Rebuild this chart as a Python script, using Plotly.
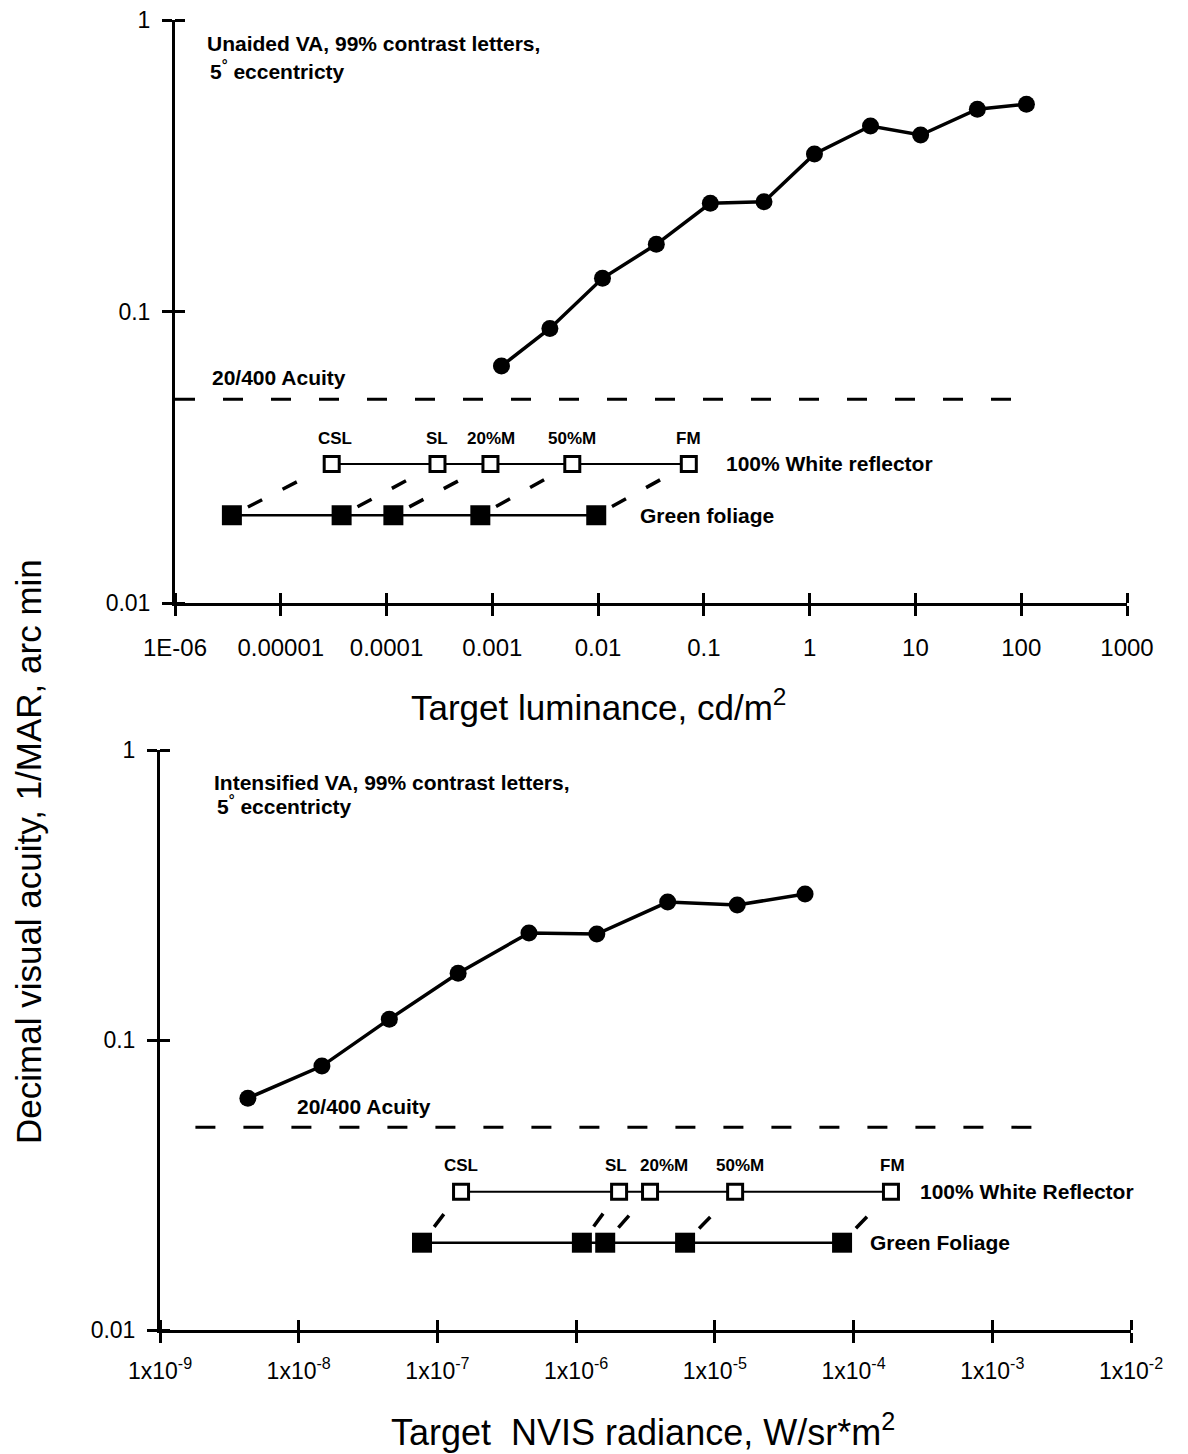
import numpy as np
import plotly.graph_objects as go

# ---------------- data ----------------
# Unaided visual acuity vs target luminance (cd/m^2)
lum = [0.00122, 0.0035, 0.011, 0.0355, 0.115, 0.37, 1.11, 3.76, 11.2, 38.5, 112]
va_unaided = [0.065, 0.0875, 0.130, 0.170, 0.235, 0.238, 0.347, 0.433, 0.403, 0.494, 0.514]

# Intensified visual acuity vs NVIS radiance (W/sr*m^2)
rad = [4.3e-9, 1.47e-8, 4.5e-8, 1.41e-7, 4.57e-7, 1.41e-6, 4.57e-6, 1.45e-5, 4.47e-5]
va_intens = [0.063, 0.0813, 0.118, 0.170, 0.234, 0.232, 0.299, 0.292, 0.319]

acuity_2040 = 0.05
acuity_top_x = [1e-6, 84]
acuity_bot_x = [1.8e-9, 2.3e-3]

cond_labels = ["CSL", "SL", "20%M", "50%M", "FM"]
white_lum = [3.03e-5, 3.03e-4, 9.6e-4, 5.7e-3, 0.072]
green_lum = [3.45e-6, 3.76e-5, 1.16e-4, 7.7e-4, 0.0096]
white_rad = [1.48e-7, 2.04e-6, 3.41e-6, 1.4e-5, 1.86e-4]
green_rad = [7.74e-8, 1.1e-6, 1.62e-6, 6.1e-6, 8.26e-5]
white_level = 0.03
green_level = 0.02

top_ticks = [1e-6, 1e-5, 1e-4, 1e-3, 1e-2, 0.1, 1, 10, 100, 1000]
top_ticktext = ["1E-06", "0.00001", "0.0001", "0.001", "0.01", "0.1", "1", "10", "100", "1000"]
bot_ticks = [1e-9, 1e-8, 1e-7, 1e-6, 1e-5, 1e-4, 1e-3, 1e-2]
bot_ticktext = ["1x10<sup>-%d</sup>" % k for k in range(9, 1, -1)]
y_ticks = [0.01, 0.1, 1]
y_ticktext = ["0.01", "0.1", "1"]

# ---------------- styling ----------------
SANS = "Liberation Sans, Arial, Helvetica, sans-serif"
BLACK = "black"

fig = go.Figure()


def add_panel(xa, ya, xs, ys, acu_x, white_x, green_x, conn_dash):
    # dashed connectors between matching foliage / reflector points
    for gx, wx in zip(green_x, white_x):
        fig.add_trace(go.Scatter(
            x=[gx, wx], y=[green_level, white_level], mode="lines",
            line=dict(color=BLACK, width=3.5, dash=conn_dash),
            xaxis=xa, yaxis=ya, showlegend=False, hoverinfo="skip"))
    # 20/400 acuity reference
    fig.add_trace(go.Scatter(
        x=acu_x, y=[acuity_2040, acuity_2040], mode="lines",
        line=dict(color=BLACK, width=3, dash="20px,28px"),
        xaxis=xa, yaxis=ya, showlegend=False))
    # 100% white reflector
    fig.add_trace(go.Scatter(
        x=white_x, y=[white_level] * len(white_x), mode="lines+markers",
        line=dict(color=BLACK, width=2),
        marker=dict(symbol="square", size=15, color="white",
                    line=dict(color=BLACK, width=3)),
        xaxis=xa, yaxis=ya, showlegend=False))
    # green foliage
    fig.add_trace(go.Scatter(
        x=green_x, y=[green_level] * len(green_x), mode="lines+markers",
        line=dict(color=BLACK, width=2.5),
        marker=dict(symbol="square", size=20, color=BLACK),
        xaxis=xa, yaxis=ya, showlegend=False))
    # acuity curve
    fig.add_trace(go.Scatter(
        x=xs, y=ys, mode="lines+markers",
        line=dict(color=BLACK, width=3.5),
        marker=dict(symbol="circle", size=17, color=BLACK),
        xaxis=xa, yaxis=ya, showlegend=False))


add_panel("x", "y", lum, va_unaided, acuity_top_x, white_lum, green_lum,
          "0px,18px,16px,23px,16px,400px")
add_panel("x2", "y2", rad, va_intens, acuity_bot_x, white_rad, green_rad,
          "0px,20px,16px,400px")


def axis_common(tickvals, ticktext, standoff, size):
    return dict(
        type="log", showgrid=False, zeroline=False,
        showline=True, linecolor=BLACK, linewidth=3,
        tickmode="array", tickvals=tickvals, ticktext=ticktext,
        ticks="outside", ticklen=10, tickwidth=2.5, tickcolor=BLACK,
        minor=dict(tickmode="array", tickvals=tickvals, ticks="inside",
                   ticklen=10, tickwidth=2.5, tickcolor=BLACK, showgrid=False),
        tickfont=dict(family=SANS, size=size, color=BLACK),
        ticklabelstandoff=standoff, automargin=False,
    )


W, H = 1188, 1454
top_px = dict(x0=175, x1=1127, y0=20, y1=603)
bot_px = dict(x0=160, x1=1131, y0=750, y1=1330)

fig.update_layout(
    width=W, height=H, margin=dict(l=0, r=0, t=0, b=0),
    paper_bgcolor="white", plot_bgcolor="white",
    xaxis=dict(axis_common(top_ticks, top_ticktext, 11, 24),
               domain=[top_px["x0"] / W, top_px["x1"] / W], range=[-6, 3], anchor="y"),
    yaxis=dict(axis_common(y_ticks, y_ticktext, 7, 23),
               domain=[1 - top_px["y1"] / H, 1 - top_px["y0"] / H], range=[-2, 0], anchor="x"),
    xaxis2=dict(axis_common(bot_ticks, bot_ticktext, 8, 23),
                domain=[bot_px["x0"] / W, bot_px["x1"] / W], range=[-9, -2], anchor="y2"),
    yaxis2=dict(axis_common(y_ticks, y_ticktext, 7, 23),
                domain=[1 - bot_px["y1"] / H, 1 - bot_px["y0"] / H], range=[-2, 0], anchor="x2"),
    showlegend=False,
)

ann = []


def label(x, y, text, xref, yref, size=21, bold=True, xanchor="center",
          yanchor="middle", xshift=0, yshift=0, textangle=0):
    ann.append(dict(x=x, y=y, text="<b>%s</b>" % text if bold else text,
                    xref=xref, yref=yref, showarrow=False, textangle=textangle,
                    font=dict(family=SANS, size=size, color=BLACK),
                    xanchor=xanchor, yanchor=yanchor, xshift=xshift, yshift=yshift))


# panel descriptions (two lines each)
label(0.0315, 0.9605, "Unaided VA, 99% contrast letters,", "x domain", "y domain",
      xanchor="left")
label(0.0345, 0.915, "5<sup>°</sup> eccentricty", "x domain", "y domain", xanchor="left")
label(0.0536, 0.9448, "Intensified VA, 99% contrast letters,", "x2 domain", "y2 domain",
      xanchor="left")
label(0.0566, 0.905, "5<sup>°</sup> eccentricty", "x2 domain", "y2 domain", xanchor="left")

# 20/400 reference labels
label(0.037, np.log10(acuity_2040), "20/400 Acuity", "x domain", "y",
      xanchor="left", yshift=22)
label(0.139, np.log10(acuity_2040), "20/400 Acuity", "x2 domain", "y2",
      xanchor="left", yshift=21)

# condition labels above reflector squares
top_shift = [3, 0, 1, 0, 0]
bot_shift = [0, -3, 14, 5, 2]
for lab, wx, dx in zip(cond_labels, white_lum, top_shift):
    label(np.log10(wx), np.log10(white_level), lab, "x", "y",
          size=17, yshift=25, xshift=dx)
for lab, wx, dx in zip(cond_labels, white_rad, bot_shift):
    label(np.log10(wx), np.log10(white_level), lab, "x2", "y2",
          size=17, yshift=26, xshift=dx)

# series names
label(np.log10(white_lum[-1]), np.log10(white_level), "100% White reflector", "x", "y",
      xanchor="left", xshift=35)
label(np.log10(green_lum[-1]), np.log10(green_level), "Green foliage", "x", "y",
      xanchor="left", xshift=42)
label(np.log10(white_rad[-1]), np.log10(white_level), "100% White Reflector", "x2", "y2",
      xanchor="left", xshift=27)
label(np.log10(green_rad[-1]), np.log10(green_level), "Green Foliage", "x2", "y2",
      xanchor="left", xshift=26)

# axis titles
label(598 / W, 1 - 705 / H, "Target luminance, cd/m<sup>2</sup>", "paper", "paper",
      size=35, bold=False)
label(643 / W, 1 - 1430 / H, "Target  NVIS radiance, W/sr*m<sup>2</sup>", "paper", "paper",
      size=36, bold=False)
label(28 / W, 1 - 852 / H, "Decimal visual acuity, 1/MAR, arc min", "paper", "paper",
      size=35, bold=False, textangle=-90)

fig.update_layout(annotations=ann)
fig.write_html("out.html")
